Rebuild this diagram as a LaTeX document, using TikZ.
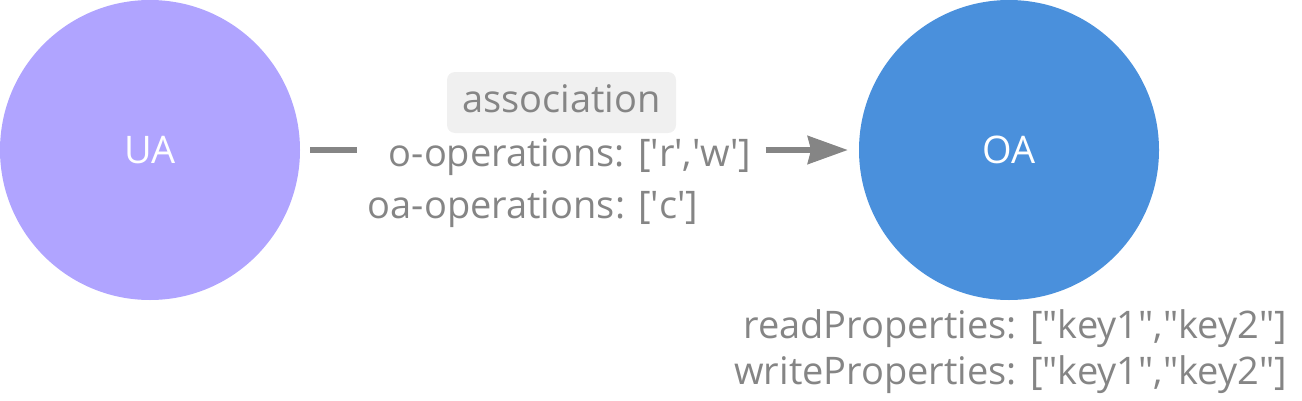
\documentclass[tikz,border=0pt]{standalone}
\usepackage{fontspec}
\setmainfont{Open Sans}
\usetikzlibrary{arrows.meta,positioning}
\definecolor{uacol}{HTML}{B0A4FF}
\definecolor{oacol}{HTML}{4A90DC}
\definecolor{txtgray}{HTML}{858585}
\definecolor{boxgray}{HTML}{F0F0F0}
\newcommand{\sq}{\textquotesingle}
\newcommand{\dq}{\textquotedbl}

\begin{document}
\begin{tikzpicture}[x=0.75pt,y=-0.75pt,>=Stealth,
      every node/.style={font=\fontsize{28.5}{34}\selectfont,text=txtgray},
      entity/.style={circle,minimum size=225pt,inner sep=0pt,text=white},
      link/.style={draw=txtgray,line width=4pt}]
    \useasboundingbox (0,0) rectangle (1302,400);

    \node[entity,fill=uacol] (UA) at (150,150) {UA};
    \node[entity,fill=oacol] (OA) at (1009,150) {OA};

    % edge label, baseline 16px under the line
    \node[inner sep=0pt,minimum width=273pt,text height=28pt,text depth=4pt]
      (ops) at (570,150) {o-operations: [\sq r\sq,\sq w\sq]};
    \node[anchor=base,inner sep=0pt] (oaops) at (533,218)
      {oa-operations: [\sq c\sq]};
    \node[fill=boxgray,rounded corners=6pt,minimum width=171.75pt,
      minimum height=45.75pt,inner sep=0pt,text height=20pt,text depth=5pt]
      (assoc) at (561.5,102.5) {association};

    \draw[link,shorten <=7.5pt,shorten >=23.25pt] (UA) -- (ops);
    \draw[link,-{Stealth[length=30pt,width=21pt,inset=2.5pt]},
      shorten <=10pt,shorten >=8.25pt] (ops) -- (OA);

    \node[anchor=base east,inner sep=0pt] (readprops) at (1287,338)
      {readProperties: [\dq key1\dq,\dq key2\dq]};
    \node[anchor=base east,inner sep=0pt] (writeprops) at (1287,384)
      {writeProperties: [\dq key1\dq,\dq key2\dq]};
  \end{tikzpicture}
\end{document}
